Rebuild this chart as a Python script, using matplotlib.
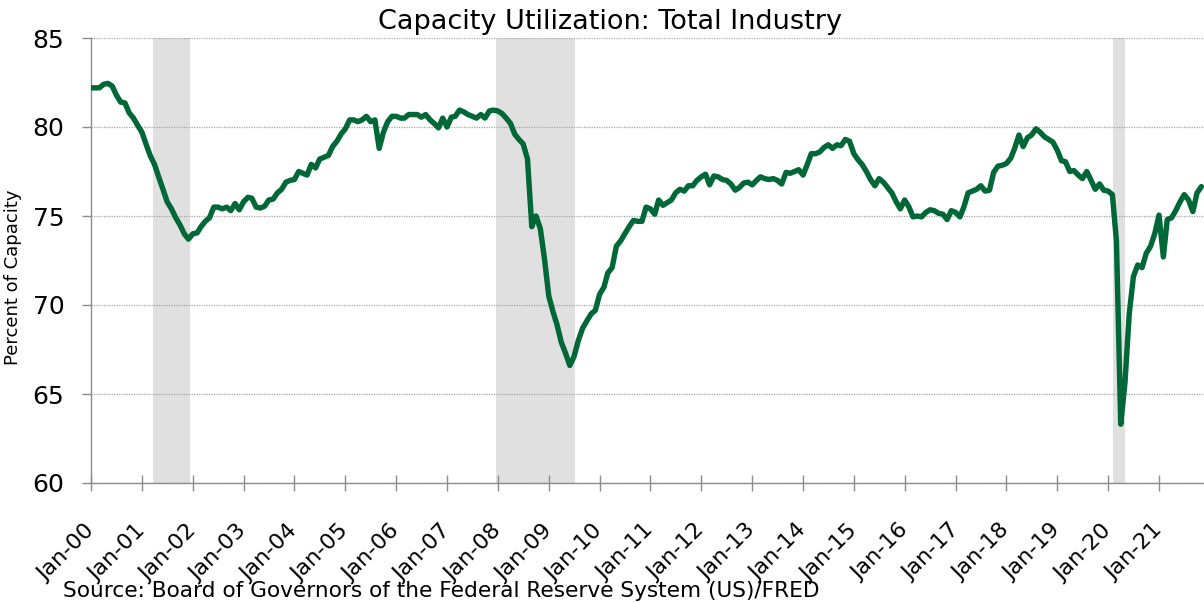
import matplotlib
matplotlib.use("Agg")
import matplotlib.pyplot as plt
import pandas as pd

# Monthly capacity utilization, total industry (percent of capacity)
cu_2000 = [82.2, 82.2, 82.2, 82.4, 82.45, 82.3, 81.8, 81.4, 81.35, 80.8, 80.5, 80.1]
cu_2001 = [79.7, 79.0, 78.4, 77.9, 77.2, 76.5, 75.8, 75.4, 74.9, 74.5, 74.0, 73.7]
cu_2002 = [74.0, 74.05, 74.4, 74.7, 74.9, 75.5, 75.5, 75.4, 75.5, 75.3, 75.7, 75.35]
cu_2003 = [75.8, 76.05, 76.0, 75.5, 75.45, 75.55, 75.9, 75.95, 76.3, 76.5, 76.9, 77.0]
cu_2004 = [77.05, 77.5, 77.4, 77.3, 77.9, 77.7, 78.2, 78.3, 78.4, 78.9, 79.2, 79.6]
cu_2005 = [79.9, 80.4, 80.4, 80.3, 80.4, 80.6, 80.3, 80.4, 78.8, 79.7, 80.3, 80.6]
cu_2006 = [80.6, 80.5, 80.5, 80.7, 80.7, 80.7, 80.55, 80.7, 80.4, 80.2, 79.95, 80.5]
cu_2007 = [80.0, 80.55, 80.6, 80.95, 80.85, 80.7, 80.6, 80.5, 80.7, 80.5, 80.9, 80.95]
cu_2008 = [80.9, 80.75, 80.5, 80.2, 79.6, 79.3, 79.05, 78.2, 74.4, 75.0, 74.3, 72.6]
cu_2009 = [70.5, 69.6, 68.9, 67.9, 67.3, 66.6, 67.1, 68.0, 68.7, 69.1, 69.5, 69.7]
cu_2010 = [70.6, 71.0, 71.8, 72.1, 73.3, 73.6, 74.0, 74.4, 74.75, 74.7, 74.7, 75.5]
cu_2011 = [75.4, 75.1, 75.9, 75.6, 75.75, 75.9, 76.3, 76.5, 76.4, 76.7, 76.7, 77.0]
cu_2012 = [77.2, 77.35, 76.75, 77.25, 77.2, 77.05, 77.0, 76.8, 76.45, 76.6, 76.85, 76.9]
cu_2013 = [76.75, 77.0, 77.2, 77.1, 77.05, 77.1, 77.0, 76.8, 77.45, 77.4, 77.5, 77.6]
cu_2014 = [77.3, 77.9, 78.5, 78.5, 78.6, 78.85, 79.0, 78.8, 79.0, 78.95, 79.3, 79.2]
cu_2015 = [78.5, 78.15, 77.9, 77.5, 77.05, 76.7, 77.1, 76.9, 76.6, 76.3, 75.8, 75.4]
cu_2016 = [75.9, 75.5, 74.95, 75.0, 74.95, 75.2, 75.35, 75.3, 75.15, 75.1, 74.8, 75.3]
cu_2017 = [75.2, 74.95, 75.5, 76.3, 76.4, 76.5, 76.7, 76.4, 76.45, 77.45, 77.8, 77.85]
cu_2018 = [77.95, 78.25, 78.8, 79.55, 78.9, 79.4, 79.55, 79.9, 79.7, 79.45, 79.3, 79.15]
cu_2019 = [78.7, 78.1, 78.05, 77.5, 77.55, 77.3, 77.1, 77.5, 77.0, 76.5, 76.8, 76.45]
cu_2020 = [76.4, 76.2, 73.6, 63.3, 65.6, 69.5, 71.6, 72.25, 72.1, 72.9, 73.3, 74.0]
cu_2021 = [75.05, 72.7, 74.8, 74.9, 75.3, 75.8, 76.2, 75.9, 75.25, 76.3, 76.65]

series_start = "2000-01-01"
recession_starts = ["2001-03-18", "2007-12-16", "2020-02-06"]
recession_ends = ["2001-12-15", "2009-07-08", "2020-05-03"]

tick_years = list(range(2000, 2022))
tick_labels = ["Jan-%02d" % (y % 100) for y in tick_years]
y_ticks = [60, 65, 70, 75, 80, 85]

values = (cu_2000 + cu_2001 + cu_2002 + cu_2003 + cu_2004 + cu_2005 + cu_2006 +
          cu_2007 + cu_2008 + cu_2009 + cu_2010 + cu_2011 + cu_2012 + cu_2013 +
          cu_2014 + cu_2015 + cu_2016 + cu_2017 + cu_2018 + cu_2019 + cu_2020 +
          cu_2021)
dates = pd.date_range(series_start, periods=len(values), freq="MS")

W, H = 1204, 603
fig = plt.figure(figsize=(W / 100, H / 100), dpi=100)
ax = fig.add_axes([91 / W, 1 - 483 / H, (1204 - 91) / W, (483 - 38) / H])

grey = "#8c8c8c"
for s, e in zip(recession_starts, recession_ends):
    ax.axvspan(pd.Timestamp(s), pd.Timestamp(e), color="#e0e0e0", lw=0, zorder=0)

ax.plot(dates, values, color="#006837", lw=3.9, solid_joinstyle="round",
        solid_capstyle="round", zorder=3)

ax.set_ylim(60, 85)
ax.set_yticks(y_ticks)
ax.set_xlim(dates[0], pd.Timestamp("2021-11-20"))
ax.set_xticks([pd.Timestamp("%d-01-01" % y) for y in tick_years])
ax.set_xticklabels(tick_labels, rotation=45, ha="right", rotation_mode="anchor",
                   va="center")

ax.grid(axis="y", linestyle=(0, (1, 1)), color="#a6a6a6", lw=0.9, zorder=1)
ax.grid(axis="x", visible=False)
for side in ("top", "right"):
    ax.spines[side].set_visible(False)
for side in ("left", "bottom"):
    ax.spines[side].set_color(grey)
    ax.spines[side].set_linewidth(1.0)

ax.tick_params(axis="y", direction="out", length=6.2, width=1, color=grey,
               labelsize=18, pad=13)
ax.tick_params(axis="x", direction="inout", length=12, width=1, color=grey,
               labelsize=16, pad=26)

fig.text(0.507, 1 - 22 / H, "Capacity Utilization: Total Industry",
         ha="center", va="center", fontsize=19.5)
fig.text(13 / W, 1 - 277 / H, "Percent of Capacity", rotation=90,
         ha="center", va="center", fontsize=13)
fig.text(63 / W, 1 - 591 / H,
         "Source: Board of Governors of the Federal Reserve System (US)/FRED",
         ha="left", va="center", fontsize=15.6)

fig.savefig("out.png", dpi=100)
